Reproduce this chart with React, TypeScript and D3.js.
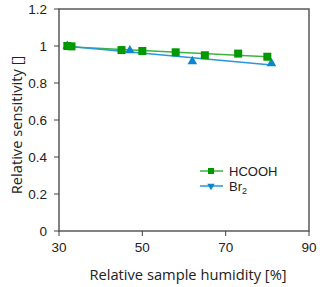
import * as d3 from "d3";

// HCOOH (squares)
const hcoohX = [32, 33, 45, 50, 58, 65, 73, 80];
const hcoohY = [1.0, 0.998, 0.978, 0.973, 0.966, 0.95, 0.959, 0.942];
// Br2 (triangles)
const br2X = [32, 47, 62, 81];
const br2Y = [1.0, 0.976, 0.917, 0.906];

const xTicks = [30, 50, 70, 90];
const yTicks = [0, 0.2, 0.4, 0.6, 0.8, 1, 1.2];

const M = { left: 59, top: 9, right: 11, bottom: 56 };
const W = 320, H = 287;

const GREEN = "#009a00";
const GREEN_LINE = "#3db33d";
const BLUE = "#0b86cf";
const BLUE_LINE = "#2a96dc";

// least-squares trend line
function fit(xs: number[], ys: number[]) {
  const mx = d3.mean(xs) ?? 0, my = d3.mean(ys) ?? 0;
  let sxy = 0, sxx = 0;
  xs.forEach((x, i) => { sxy += (x - mx) * (ys[i] - my); sxx += (x - mx) ** 2; });
  const b = sxy / sxx;
  return (x: number) => my + b * (x - mx);
}

export default function App() {
  const x = d3.scaleLinear().domain([30, 90]).range([M.left, W - M.right]);
  const y = d3.scaleLinear().domain([0, 1.2]).range([H - M.bottom, M.top]);
  const fH = fit(hcoohX, hcoohY);
  const fB = fit(br2X, br2Y);
  const tri = d3.symbol(d3.symbolTriangle, 40)();
  const font = "'Liberation Sans', Arial, sans-serif";
  const tfont = "'Open Sans', Calibri, sans-serif";
  return (
    <svg width={W} height={H} style={{ position: "absolute", left: 0, top: 0, background: "#fff" }}>
      <rect x={M.left} y={M.top} width={W - M.left - M.right} height={H - M.top - M.bottom}
        fill="none" stroke="#595959" strokeWidth={1.5} />
      {yTicks.map((t) => (
        <g key={t}>
          <line x1={M.left - 5} x2={M.left} y1={y(t)} y2={y(t)} stroke="#404040" />
          <text x={M.left - 12} y={y(t)} dy="0.35em" textAnchor="end" fontSize={13.5} fontFamily={font} fill="#222">{t}</text>
        </g>
      ))}
      {xTicks.map((t) => (
        <g key={t}>
          <line x1={x(t)} x2={x(t)} y1={H - M.bottom} y2={H - M.bottom + 5} stroke="#404040" />
          <text x={x(t)} y={H - M.bottom + 21} textAnchor="middle" fontSize={13.5} fontFamily={font} fill="#222">{t}</text>
        </g>
      ))}
      <line x1={x(d3.min(hcoohX)!)} x2={x(d3.max(hcoohX)!)} y1={y(fH(d3.min(hcoohX)!))} y2={y(fH(d3.max(hcoohX)!))}
        stroke={GREEN_LINE} strokeWidth={1.5} />
      <line x1={x(d3.min(br2X)!)} x2={x(d3.max(br2X)!)} y1={y(fB(d3.min(br2X)!))} y2={y(fB(d3.max(br2X)!))}
        stroke={BLUE_LINE} strokeWidth={1.5} />
      {br2X.map((v, i) => (
        <path key={i} d={tri} transform={`translate(${x(v)},${y(br2Y[i])})`} fill={BLUE} />
      ))}
      {hcoohX.map((v, i) => (
        <rect key={i} x={x(v) - 4} y={y(hcoohY[i]) - 4} width={8} height={8} fill={GREEN} />
      ))}
      {/* legend */}
      <line x1={200} x2={223} y1={171} y2={171} stroke={GREEN_LINE} strokeWidth={1.5} />
      <rect x={208} y={168} width={6} height={6} fill={GREEN} />
      <text x={229} y={171} dy="0.35em" fontSize={13} fontFamily={font} fill="#222">HCOOH</text>
      <line x1={200} x2={223} y1={186} y2={186} stroke={BLUE_LINE} strokeWidth={1.5} />
      <path d={d3.symbol(d3.symbolTriangle, 24)()} transform="translate(211,186) rotate(180)" fill={BLUE} />
      <text x={229} y={186} dy="0.35em" fontSize={13} fontFamily={font} fill="#222">Br<tspan fontSize={9} dy="3">2</tspan></text>
      <text x={188} y={280} textAnchor="middle" fontSize={14.7} fontFamily={tfont} fill="#222">Relative sample humidity [%]</text>
      <text transform="translate(22,125) rotate(-90)" textAnchor="middle" fontSize={14.7} fontFamily={tfont} fill="#222">Relative sensitivity []</text>
    </svg>
  );
}
